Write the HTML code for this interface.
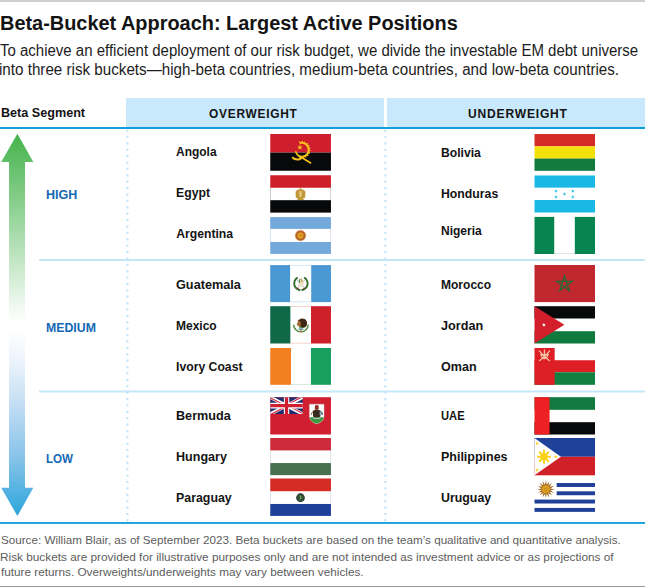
<!DOCTYPE html>
<html><head><meta charset="utf-8"><title>Beta-Bucket Approach</title>
<style>
html,body{margin:0;padding:0;background:#fff;}
body{width:645px;height:588px;position:relative;overflow:hidden;font-family:'Liberation Sans', Arial, sans-serif;}
.t{position:absolute;white-space:nowrap;transform-origin:0 0;}
.hbg{position:absolute;top:98px;height:29px;background:#c8e8fb;}
.sep{position:absolute;left:39px;width:606px;height:2px;background:#c6e7fa;}
svg.f{position:absolute;overflow:hidden;}
</style></head>
<body>
<div style="position:absolute;left:0;top:0;width:645px;height:2px;background:#cfcfcf"></div>
<div class="hbg" style="left:126px;width:258px"></div>
<div class="hbg" style="left:387px;width:258px"></div>
<div style="position:absolute;left:0;top:127px;width:645px;height:2px;background:#129edb"></div>
<div class="sep" style="top:259px"></div>
<div class="sep" style="top:390px;height:3px;background:linear-gradient(#e2f3fc 0,#e2f3fc 1px,#c6e7fa 1px,#c6e7fa 2px,#e2f3fc 2px)"></div>
<div style="position:absolute;left:0;top:522px;width:645px;height:2px;background:#22a6de"></div>
<div style="position:absolute;left:0;top:586px;width:645px;height:1px;background:#9a9a9a"></div>
<svg style="position:absolute;left:124px;top:128px" width="7" height="396" viewBox="0 0 7 396"><line x1="3.45" y1="2.7" x2="3.45" y2="393" stroke="#c4e4f8" stroke-width="2.4" stroke-linecap="round" stroke-dasharray="0 6.387"/></svg>
<svg style="position:absolute;left:382px;top:128px" width="7" height="396" viewBox="0 0 7 396"><line x1="3.40" y1="2.7" x2="3.40" y2="393" stroke="#c4e4f8" stroke-width="2.4" stroke-linecap="round" stroke-dasharray="0 6.387"/></svg>
<svg style="position:absolute;left:0;top:130px" width="36" height="390" viewBox="0 0 36 390">
<defs><linearGradient id="ag" x1="0" y1="0" x2="0" y2="390" gradientUnits="userSpaceOnUse">
<stop offset="0.0103" stop-color="#45b34c"/><stop offset="0.492" stop-color="#ffffff"/><stop offset="0.513" stop-color="#ffffff"/><stop offset="0.59" stop-color="#ecf4fc"/><stop offset="0.692" stop-color="#c8e0f5"/><stop offset="0.846" stop-color="#84c2e8"/><stop offset="0.99" stop-color="#2ca6dc"/></linearGradient></defs>
<path d="M17.4 3.8 L33.3 32.1 L25 32.1 L25 357.7 L33.3 357.7 L17.4 386 L1.2 357.7 L9 357.7 L9 32.1 L1.2 32.1 Z" fill="url(#ag)"/>
</svg>
<svg class="f" style="left:270px;top:134px" width="61" height="37" viewBox="0 0 61 37"><g transform="translate(0.250 0.000) scale(1.00165 0.99324)"><rect x="0" y="0" width="60.6" height="18.71" fill="#cf1f2e"/><rect x="0" y="18.7" width="60.6" height="18.310000000000002" fill="#08090b"/><path d="M29.24 9.24 A7.0 7.0 0 1 1 28.78 22.39" fill="none" stroke="#f6c21c" stroke-width="2.0"/><path d="M28.87 8.10 A8.2 8.2 0 1 1 28.33 23.50" fill="none" stroke="#f6c21c" stroke-width="1.3" stroke-dasharray="1.2 1.4"/><polygon points="29.60,10.40 30.27,12.47 32.45,12.47 30.69,13.75 31.36,15.83 29.60,14.55 27.84,15.83 28.51,13.75 26.75,12.47 28.93,12.47" fill="#f6c21c"/><path d="M25.3 17.4 Q26.5 21.8 31 23.4 L40.8 29.4" fill="none" stroke="#f6c21c" stroke-width="1.6"/><path d="M21.9 23.4 Q24.5 26.2 28.5 25.6 Q30.5 25.2 31.6 23.6" fill="none" stroke="#f6c21c" stroke-width="2.1"/></g></svg>
<svg class="f" style="left:270px;top:175px" width="61" height="38" viewBox="0 0 61 38"><g transform="translate(0.250 0.250) scale(1.00165 1.00946)"><rect x="0" y="0" width="60.6" height="12.51" fill="#ce2029"/><rect x="0" y="12.5" width="60.6" height="12.209999999999999" fill="#ffffff"/><rect x="0" y="24.7" width="60.6" height="12.31" fill="#08090b"/><path d="M0.25 12.5 V24.7 M60.35 12.5 V24.7" stroke="#9a9a9a" stroke-width="0.5"/><path d="M30.2 12.4 L31.1 13.9 L33.2 14.4 L35.1 16 L34.9 22.2 L32.6 23.1 L33.8 24.4 L26.6 24.4 L27.8 23.1 L25.5 22.2 L25.3 16 L27.2 14.4 L29.3 13.9 Z" fill="#c39b3c"/><path d="M28.9 15.8 H31.5 V20.5 L30.2 21.8 L28.9 20.5 Z" fill="#e2c57c"/><path d="M26.2 17 L28.4 21.5 M34.2 17 L32 21.5" stroke="#a67f2a" stroke-width="0.5"/></g></svg>
<svg class="f" style="left:270px;top:217px" width="61" height="37" viewBox="0 0 61 37"><g transform="translate(0.250 0.100) scale(1.00165 0.99459)"><rect x="0" y="0" width="60.6" height="11.91" fill="#74a9dc"/><rect x="0" y="11.9" width="60.6" height="13.11" fill="#ffffff"/><rect x="0" y="25.0" width="60.6" height="12.01" fill="#74a9dc"/><path d="M0.25 11.9 V25 M60.35 11.9 V25" stroke="#b3cbe9" stroke-width="0.5"/><circle cx="30.2" cy="18.5" r="5.3" fill="#b5662a"/><circle cx="30.2" cy="18.5" r="5.3" fill="none" stroke="#d99a5c" stroke-width="0.8" stroke-dasharray="0.6 0.7"/><circle cx="30.2" cy="18.5" r="2.9" fill="#e8a41c"/><path d="M28.8 18 H31.4 L30.2 19.6" fill="none" stroke="#8a4a10" stroke-width="0.5"/></g></svg>
<svg class="f" style="left:270px;top:265px" width="61" height="38" viewBox="0 0 61 38"><g transform="translate(0.250 0.100) scale(1.00165 1.00000)"><rect x="0" y="0" width="20.01" height="37.0" fill="#4997d3"/><rect x="20.0" y="0" width="20.91" height="37.0" fill="#ffffff"/><rect x="40.9" y="0" width="19.710000000000004" height="37.0" fill="#4997d3"/><path d="M20 0.3 H40.9 M20 36.7 H40.9" stroke="#b9d3ef" stroke-width="0.6"/><path d="M27.4 12.4 Q23.4 14.8 24 19.6 Q25 24 30 25.1" fill="none" stroke="#2f6a2a" stroke-width="1.9"/><path d="M33.8 12.4 Q37.8 14.8 37.2 19.6 Q36.2 24 31.2 25.1" fill="none" stroke="#2f6a2a" stroke-width="1.9"/><path d="M26.6 14.6 L34.4 23.2 M34.6 14.6 L26.8 23.2" stroke="#8c8c8c" stroke-width="0.6"/><ellipse cx="30.6" cy="19.2" rx="3.3" ry="2.4" transform="rotate(-35 30.6 19.2)" fill="#ece2c6"/><path d="M30 13 Q32.6 13.4 32.4 16.8 L30.6 17.4 Z" fill="#c9a45a"/><path d="M29.6 14.2 Q28.4 16 29.4 17.6" fill="none" stroke="#3e7a3a" stroke-width="1"/><circle cx="27.6" cy="23.3" r="0.75" fill="#b03a2e"/><circle cx="33.6" cy="23.3" r="0.75" fill="#b03a2e"/></g></svg>
<svg class="f" style="left:270px;top:306px" width="61" height="38" viewBox="0 0 61 38"><g transform="translate(0.250 0.200) scale(1.00165 1.00811)"><rect x="0" y="0" width="20.310000000000002" height="37.0" fill="#0f6848"/><rect x="20.3" y="0" width="20.410000000000004" height="37.0" fill="#ffffff"/><rect x="40.7" y="0" width="19.91" height="37.0" fill="#ce2028"/><path d="M20.3 0.3 H40.7 M20.3 36.7 H40.7" stroke="#f0b8a8" stroke-width="0.6"/><path d="M23.4 18.4 A7.2 7.0 0 0 0 37.8 18.4" fill="none" stroke="#4a8a3c" stroke-width="1.5"/><path d="M23.4 18.4 A7.2 7.0 0 0 0 37.8 18.4" fill="none" stroke="#c9a34a" stroke-width="0.5" stroke-dasharray="0.8 1.6"/><path d="M28.6 13.6 Q31 11.2 34.4 12.8 Q37.4 14.8 36.6 18.6 Q35.2 21.8 31.6 21.6 Q29.4 20.8 29.2 18 Z" fill="#3e2814"/><path d="M29.4 14.6 Q26.8 15 26.6 17.8 Q27.2 20.4 29.8 20.6 Q31 18 30.4 15.4 Z" fill="#a06a32"/><circle cx="28.4" cy="14.4" r="1.0" fill="#7a4a1e"/><path d="M27.6 22.6 Q30.6 21 33.8 22.6 Q30.6 24.4 27.6 22.6 Z" fill="#4f8f9e"/><path d="M29 21.8 Q30.6 20 32.4 21.8" fill="none" stroke="#4a8a3c" stroke-width="1"/><circle cx="30.6" cy="24.8" r="0.9" fill="#c8502e"/></g></svg>
<svg class="f" style="left:270px;top:348px" width="61" height="37" viewBox="0 0 61 37"><g transform="translate(0.250 0.000) scale(1.00165 0.99459)"><rect x="0" y="0" width="20.810000000000002" height="37.0" fill="#f28020"/><rect x="20.8" y="0" width="19.810000000000002" height="37.0" fill="#ffffff"/><rect x="40.6" y="0" width="20.01" height="37.0" fill="#189e5f"/><path d="M20.8 36.7 H40.6" stroke="#b9dcc8" stroke-width="0.6"/></g></svg>
<svg class="f" style="left:270px;top:397px" width="61" height="38" viewBox="0 0 61 38"><g transform="translate(0.250 0.200) scale(1.00165 1.00811)"><rect width="60.6" height="37.0" fill="#cf1f30"/><svg x="0" y="0" width="32.5" height="16.7" viewBox="0 0 60 30" preserveAspectRatio="none"><defs><clipPath id="ukt"><path d="M30,15 h30 v15 z v15 h-30 z h-30 v-15 z v-15 h30 z"/></clipPath></defs><rect width="60" height="30" fill="#1f2c6d"/><path d="M0,0 L60,30 M60,0 L0,30" stroke="#fff" stroke-width="6"/><path d="M0,0 L60,30 M60,0 L0,30" clip-path="url(#ukt)" stroke="#cf1f30" stroke-width="4"/><path d="M30,0 v30 M0,15 h60" stroke="#fff" stroke-width="10"/><path d="M30,0 v30 M0,15 h60" stroke="#cf1f30" stroke-width="6"/></svg><path d="M39.1 6.9 H53.7 V19 Q53.7 24.3 46.4 26.6 Q39.1 24.3 39.1 19 Z" fill="#ffffff" stroke="#c9c9c9" stroke-width="0.4"/><path d="M39.3 20 H53.5 Q53 24.2 46.4 26.4 Q39.8 24.2 39.3 20 Z" fill="#3c9a3c"/><path d="M44.6 8.4 Q46.4 6.9 48.2 8.4 L48.4 12 Q46.4 13 44.4 12 Z" fill="#8b2a20"/><path d="M42.5 13.5 Q46.4 11.5 50.5 13.5 L50 19.5 Q46.4 21 42.8 19.5 Z" fill="#3a2a1e"/><rect x="49.3" y="14.3" width="3.2" height="3.2" fill="#7fb7d6"/><path d="M42 14.5 L41 17.5 M51 14.5 L52.2 17.5" stroke="#6c4a2e" stroke-width="0.9"/><path d="M43 20.5 Q46.4 22.3 50 20.5" stroke="#c8c8e0" stroke-width="1" fill="none"/></g></svg>
<svg class="f" style="left:270px;top:438px" width="61" height="38" viewBox="0 0 61 38"><g transform="translate(0.250 0.000) scale(1.00165 1.00270)"><rect x="0" y="0" width="60.6" height="12.61" fill="#cd2a3b"/><rect x="0" y="12.6" width="60.6" height="12.41" fill="#ffffff"/><rect x="0" y="25.0" width="60.6" height="12.01" fill="#477050"/><path d="M0.25 12.6 V25 M60.35 12.6 V25" stroke="#b8c4b8" stroke-width="0.5"/></g></svg>
<svg class="f" style="left:270px;top:478px" width="61" height="38" viewBox="0 0 61 38"><g transform="translate(0.250 0.500) scale(1.00165 1.01081)"><rect x="0" y="0" width="60.6" height="12.81" fill="#d52b25"/><rect x="0" y="12.8" width="60.6" height="12.409999999999998" fill="#ffffff"/><rect x="0" y="25.2" width="60.6" height="11.81" fill="#1f409a"/><path d="M0.25 12.8 V25.2 M60.35 12.8 V25.2" stroke="#b9c0e6" stroke-width="0.5"/><circle cx="30.2" cy="19" r="4.3" fill="#1a1a1a"/><circle cx="30.2" cy="19" r="3.3" fill="#2f5a3a"/><circle cx="30.2" cy="19" r="4.0" fill="none" stroke="#9a9a9a" stroke-width="0.4" stroke-dasharray="0.5 0.6"/><path d="M29.5 17 L30.8 18.8 L29.8 20.5" stroke="#e8d27a" stroke-width="0.7" fill="none"/></g></svg>
<svg class="f" style="left:534px;top:134px" width="61" height="37" viewBox="0 0 61 37"><g transform="translate(0.500 0.050) scale(0.99835 0.99324)"><rect x="0" y="0" width="60.6" height="12.41" fill="#d52b27"/><rect x="0" y="12.4" width="60.6" height="12.309999999999999" fill="#f5e10a"/><rect x="0" y="24.7" width="60.6" height="12.31" fill="#117a3c"/></g></svg>
<svg class="f" style="left:534px;top:175px" width="61" height="38" viewBox="0 0 61 38"><g transform="translate(0.500 0.500) scale(0.99835 1.00000)"><rect x="0" y="0" width="60.6" height="12.31" fill="#1ab9e5"/><rect x="0" y="12.3" width="60.6" height="12.209999999999999" fill="#ffffff"/><rect x="0" y="24.5" width="60.6" height="12.51" fill="#1ab9e5"/><polygon points="21.60,13.60 22.05,14.98 23.50,14.98 22.33,15.84 22.78,17.22 21.60,16.36 20.42,17.22 20.87,15.84 19.70,14.98 21.15,14.98" fill="#1ab9e5"/><polygon points="21.60,19.50 22.05,20.88 23.50,20.88 22.33,21.74 22.78,23.12 21.60,22.26 20.42,23.12 20.87,21.74 19.70,20.88 21.15,20.88" fill="#1ab9e5"/><polygon points="30.00,16.60 30.45,17.98 31.90,17.98 30.73,18.84 31.18,20.22 30.00,19.36 28.82,20.22 29.27,18.84 28.10,17.98 29.55,17.98" fill="#1ab9e5"/><polygon points="38.40,13.60 38.85,14.98 40.30,14.98 39.13,15.84 39.58,17.22 38.40,16.36 37.22,17.22 37.67,15.84 36.50,14.98 37.95,14.98" fill="#1ab9e5"/><polygon points="38.40,19.50 38.85,20.88 40.30,20.88 39.13,21.74 39.58,23.12 38.40,22.26 37.22,23.12 37.67,21.74 36.50,20.88 37.95,20.88" fill="#1ab9e5"/></g></svg>
<svg class="f" style="left:534px;top:216px" width="61" height="38" viewBox="0 0 61 38"><g transform="translate(0.500 0.900) scale(0.99835 1.00270)"><rect x="0" y="0" width="20.01" height="37.0" fill="#078550"/><rect x="20.0" y="0" width="20.41" height="37.0" fill="#ffffff"/><rect x="40.4" y="0" width="20.210000000000004" height="37.0" fill="#078550"/><path d="M20 36.7 H40.4" stroke="#b5d2bf" stroke-width="0.6"/></g></svg>
<svg class="f" style="left:534px;top:265px" width="61" height="38" viewBox="0 0 61 38"><g transform="translate(0.500 0.000) scale(0.99835 1.00270)"><rect width="60.6" height="37.0" fill="#c1272e"/><polygon points="30.10,10.70 34.92,25.53 22.30,16.37 37.90,16.37 25.28,25.53" fill="none" stroke="#1d6b36" stroke-width="1.25" stroke-linejoin="miter"/></g></svg>
<svg class="f" style="left:534px;top:306px" width="61" height="38" viewBox="0 0 61 38"><g transform="translate(0.500 0.200) scale(0.99835 1.00811)"><rect x="0" y="0" width="60.6" height="12.41" fill="#08090b"/><rect x="0" y="12.4" width="60.6" height="12.41" fill="#ffffff"/><rect x="0" y="24.8" width="60.6" height="12.209999999999999" fill="#107a3e"/><polygon points="0,0 29.9,18.5 0,37.0" fill="#d21f2b"/><polygon points="9.40,16.60 9.81,17.64 10.89,17.32 10.33,18.29 11.25,18.92 10.14,19.09 10.22,20.21 9.40,19.45 8.58,20.21 8.66,19.09 7.55,18.92 8.47,18.29 7.91,17.32 8.99,17.64" fill="#ffffff"/></g></svg>
<svg class="f" style="left:534px;top:348px" width="61" height="37" viewBox="0 0 61 37"><g transform="translate(0.500 0.000) scale(0.99835 0.99459)"><rect x="0" y="0" width="60.6" height="12.31" fill="#ffffff"/><rect x="0" y="12.3" width="60.6" height="12.109999999999998" fill="#de1f26"/><rect x="0" y="24.4" width="60.6" height="12.610000000000001" fill="#118040"/><rect x="0" y="0" width="20.2" height="37.0" fill="#de1f26"/><path d="M4.6 2.6 Q9 8.5 15.4 13 M15.4 2.6 Q11 8.5 4.6 13" fill="none" stroke="#f4c4a0" stroke-width="1.2"/><path d="M10 1.6 V10.2 M5.6 6.6 H14.4" stroke="#f4c4a0" stroke-width="1.3"/><path d="M6.8 6.4 Q7 10.4 10 10.8 Q13 10.4 13.2 6.4" fill="none" stroke="#f4c4a0" stroke-width="1.2"/></g></svg>
<svg class="f" style="left:534px;top:397px" width="61" height="38" viewBox="0 0 61 38"><g transform="translate(0.500 0.200) scale(0.99835 1.00811)"><rect x="0" y="0" width="60.6" height="12.61" fill="#127a3f"/><rect x="0" y="12.6" width="60.6" height="12.21" fill="#ffffff"/><rect x="0" y="24.8" width="60.6" height="12.209999999999999" fill="#08090b"/><rect x="0" y="0" width="15.1" height="37.0" fill="#ed2024"/></g></svg>
<svg class="f" style="left:534px;top:438px" width="61" height="38" viewBox="0 0 61 38"><g transform="translate(0.500 0.000) scale(0.99835 1.00811)"><rect x="0" y="0" width="60.6" height="18.610000000000003" fill="#1f419a"/><rect x="0" y="18.6" width="60.6" height="18.41" fill="#d12128"/><polygon points="0,0 26.4,18.6 0,37.0" fill="#ffffff"/><circle cx="9.5" cy="18.6" r="3.5" fill="#fcd116"/><line x1="9.5" y1="18.6" x2="16.40" y2="18.60" stroke="#fcd116" stroke-width="2.0"/><line x1="9.5" y1="18.6" x2="14.38" y2="23.48" stroke="#fcd116" stroke-width="2.0"/><line x1="9.5" y1="18.6" x2="9.50" y2="25.50" stroke="#fcd116" stroke-width="2.0"/><line x1="9.5" y1="18.6" x2="4.62" y2="23.48" stroke="#fcd116" stroke-width="2.0"/><line x1="9.5" y1="18.6" x2="2.60" y2="18.60" stroke="#fcd116" stroke-width="2.0"/><line x1="9.5" y1="18.6" x2="4.62" y2="13.72" stroke="#fcd116" stroke-width="2.0"/><line x1="9.5" y1="18.6" x2="9.50" y2="11.70" stroke="#fcd116" stroke-width="2.0"/><line x1="9.5" y1="18.6" x2="14.38" y2="13.72" stroke="#fcd116" stroke-width="2.0"/><polygon points="2.50,3.30 2.97,4.75 4.50,4.75 3.26,5.65 3.73,7.10 2.50,6.20 1.27,7.10 1.74,5.65 0.50,4.75 2.03,4.75" fill="#fcd116"/><polygon points="2.50,29.80 2.97,31.25 4.50,31.25 3.26,32.15 3.73,33.60 2.50,32.70 1.27,33.60 1.74,32.15 0.50,31.25 2.03,31.25" fill="#fcd116"/><polygon points="21.30,16.50 21.77,17.95 23.30,17.95 22.06,18.85 22.53,20.30 21.30,19.40 20.07,20.30 20.54,18.85 19.30,17.95 20.83,17.95" fill="#fcd116"/></g></svg>
<svg class="f" style="left:534px;top:478px" width="61" height="38" viewBox="0 0 61 38"><g transform="translate(0.500 0.500) scale(0.99835 1.00811)"><rect width="60.6" height="37.0" fill="#ffffff"/><rect x="22.2" y="4.5" width="38.400000000000006" height="3.9" fill="#1f3f98"/><rect x="22.2" y="12.7" width="38.400000000000006" height="3.9" fill="#1f3f98"/><rect x="0" y="20.9" width="60.6" height="3.9" fill="#1f3f98"/><rect x="0" y="29.2" width="60.6" height="3.9" fill="#1f3f98"/><polygon points="11.40,2.00 12.28,6.26 14.73,2.66 13.91,6.94 17.55,4.55 15.16,8.19 19.44,7.37 15.84,9.82 20.10,10.70 15.84,11.58 19.44,14.03 15.16,13.21 17.55,16.85 13.91,14.46 14.73,18.74 12.28,15.14 11.40,19.40 10.52,15.14 8.07,18.74 8.89,14.46 5.25,16.85 7.64,13.21 3.36,14.03 6.96,11.58 2.70,10.70 6.96,9.82 3.36,7.37 7.64,8.19 5.25,4.55 8.89,6.94 8.07,2.66 10.52,6.26" fill="#a0671c"/><circle cx="11.4" cy="10.7" r="4.1" fill="#d99d22"/><path d="M9.6 10 H10.6 M12 10 H13 M10.3 12.1 H12.3" stroke="#9a6a1a" stroke-width="0.6"/></g></svg>
<div class="t" style="left:0.21px;top:8.93px;font-size:19.4px;line-height:29.1px;font-weight:700;color:#141414;transform:scaleX(1.0269);">Beta-Bucket Approach: Largest Active Positions</div>
<div class="t" style="left:0.20px;top:38.88px;font-size:15.8px;line-height:23.7px;font-weight:400;color:#1c1c1c;transform:scaleX(0.9491);">To achieve an efficient deployment of our risk budget, we divide the investable EM debt universe</div>
<div class="t" style="left:-0.79px;top:57.88px;font-size:15.8px;line-height:23.7px;font-weight:400;color:#1c1c1c;transform:scaleX(0.9608);">into three risk buckets—high-beta countries, medium-beta countries, and low-beta countries.</div>
<div class="t" style="left:1.19px;top:104.29px;font-size:12.5px;line-height:18.75px;font-weight:700;color:#141414;transform:scaleX(1.0086);">Beta Segment</div>
<div class="t" style="left:209.19px;top:105.04px;font-size:12px;line-height:18.0px;font-weight:700;color:#141414;letter-spacing:0.75px;transform:scaleX(0.9922);">OVERWEIGHT</div>
<div class="t" style="left:468.20px;top:105.04px;font-size:12px;line-height:18.0px;font-weight:700;color:#141414;letter-spacing:0.8px;transform:scaleX(1.0052);">UNDERWEIGHT</div>
<div class="t" style="left:46.18px;top:186.04px;font-size:12px;line-height:18.0px;font-weight:700;color:#1468b5;transform:scaleX(1.0424);">HIGH</div>
<div class="t" style="left:46.18px;top:319.04px;font-size:12px;line-height:18.0px;font-weight:700;color:#1468b5;transform:scaleX(1.0254);">MEDIUM</div>
<div class="t" style="left:46.23px;top:450.04px;font-size:12px;line-height:18.0px;font-weight:700;color:#1468b5;transform:scaleX(0.9657);">LOW</div>
<div class="t" style="left:176.20px;top:142.82px;font-size:12.2px;line-height:18.3px;font-weight:700;color:#141414;transform:scaleX(0.9815);">Angola</div>
<div class="t" style="left:176.17px;top:183.82px;font-size:12.2px;line-height:18.3px;font-weight:700;color:#141414;transform:scaleX(1.0042);">Egypt</div>
<div class="t" style="left:176.20px;top:224.82px;font-size:12.2px;line-height:18.3px;font-weight:700;color:#141414;">Argentina</div>
<div class="t" style="left:176.21px;top:275.82px;font-size:12.2px;line-height:18.3px;font-weight:700;color:#141414;transform:scaleX(1.0415);">Guatemala</div>
<div class="t" style="left:176.18px;top:316.82px;font-size:12.2px;line-height:18.3px;font-weight:700;color:#141414;transform:scaleX(0.9840);">Mexico</div>
<div class="t" style="left:176.19px;top:357.82px;font-size:12.2px;line-height:18.3px;font-weight:700;color:#141414;transform:scaleX(1.0018);">Ivory Coast</div>
<div class="t" style="left:176.17px;top:406.82px;font-size:12.2px;line-height:18.3px;font-weight:700;color:#141414;transform:scaleX(1.0360);">Bermuda</div>
<div class="t" style="left:176.17px;top:447.82px;font-size:12.2px;line-height:18.3px;font-weight:700;color:#141414;transform:scaleX(1.0290);">Hungary</div>
<div class="t" style="left:176.16px;top:488.82px;font-size:12.2px;line-height:18.3px;font-weight:700;color:#141414;transform:scaleX(1.0155);">Paraguay</div>
<div class="t" style="left:441.20px;top:143.82px;font-size:12.2px;line-height:18.3px;font-weight:700;color:#141414;transform:scaleX(0.9978);">Bolivia</div>
<div class="t" style="left:441.19px;top:184.82px;font-size:12.2px;line-height:18.3px;font-weight:700;color:#141414;transform:scaleX(1.0055);">Honduras</div>
<div class="t" style="left:441.19px;top:221.82px;font-size:12.2px;line-height:18.3px;font-weight:700;color:#141414;transform:scaleX(0.9863);">Nigeria</div>
<div class="t" style="left:441.21px;top:275.82px;font-size:12.2px;line-height:18.3px;font-weight:700;color:#141414;transform:scaleX(0.9867);">Morocco</div>
<div class="t" style="left:441.20px;top:316.82px;font-size:12.2px;line-height:18.3px;font-weight:700;color:#141414;transform:scaleX(1.0381);">Jordan</div>
<div class="t" style="left:441.19px;top:357.82px;font-size:12.2px;line-height:18.3px;font-weight:700;color:#141414;transform:scaleX(1.0327);">Oman</div>
<div class="t" style="left:441.20px;top:406.82px;font-size:12.2px;line-height:18.3px;font-weight:700;color:#141414;transform:scaleX(0.9165);">UAE</div>
<div class="t" style="left:441.20px;top:447.82px;font-size:12.2px;line-height:18.3px;font-weight:700;color:#141414;transform:scaleX(1.0233);">Philippines</div>
<div class="t" style="left:441.20px;top:488.82px;font-size:12.2px;line-height:18.3px;font-weight:700;color:#141414;transform:scaleX(1.0143);">Uruguay</div>
<div class="t" style="left:1.21px;top:532.26px;font-size:11.8px;line-height:17.7px;font-weight:400;color:#5c5c5c;transform:scaleX(0.9879);">Source: William Blair, as of September 2023. Beta buckets are based on the team’s qualitative and quantitative analysis.</div>
<div class="t" style="left:0.20px;top:549.06px;font-size:11.8px;line-height:17.7px;font-weight:400;color:#5c5c5c;transform:scaleX(1.0007);">Risk buckets are provided for illustrative purposes only and are not intended as investment advice or as projections of</div>
<div class="t" style="left:1.20px;top:564.06px;font-size:11.8px;line-height:17.7px;font-weight:400;color:#5c5c5c;transform:scaleX(0.9964);">future returns. Overweights/underweights may vary between vehicles.</div>
</body></html>
